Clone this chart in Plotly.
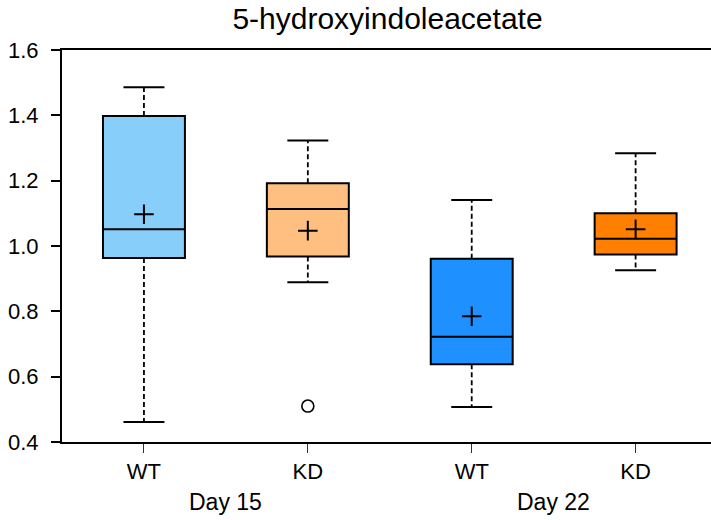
import plotly.graph_objects as go

title = "5-hydroxyindoleacetate"
groups = ["WT", "KD", "WT", "KD"]
days = ["Day 15", "Day 22"]
q1 = [0.963, 0.968, 0.638, 0.974]
median = [1.051, 1.113, 0.722, 1.022]
q3 = [1.398, 1.192, 0.961, 1.100]
lower = [0.461, 0.889, 0.507, 0.926]
upper = [1.486, 1.323, 1.141, 1.284]
means = [1.097, 1.047, 0.785, 1.051]
outlier_group = [1]
outlier_value = [0.510]
colors = ["#87CEFA", "#FFBF80", "#1E90FF", "#FF8000"]

FONT = "Liberation Sans, Arial, sans-serif"
BOX_W = 0.5
CAP_HALF = 0.125

fig = go.Figure()
pos = list(range(len(groups)))

for i in pos:
    fig.add_trace(go.Box(
        x=[i], q1=[q1[i]], median=[median[i]], q3=[q3[i]],
        lowerfence=[q1[i]], upperfence=[q3[i]],
        width=BOX_W, whiskerwidth=0,
        fillcolor=colors[i], line=dict(color="black", width=2),
        boxpoints=False, showlegend=False, hoverinfo="skip",
    ))

# dashed whiskers
wx, wy = [], []
for i in pos:
    wx += [i, i, None, i, i, None]
    wy += [q3[i], upper[i], None, q1[i], lower[i], None]
fig.add_trace(go.Scatter(x=wx, y=wy, mode="lines",
                         line=dict(color="black", width=1.8, dash="5px,3px"),
                         showlegend=False, hoverinfo="skip"))

# caps
cx, cy = [], []
for i in pos:
    for v in (upper[i], lower[i]):
        cx += [i - CAP_HALF, i + CAP_HALF, None]
        cy += [v, v, None]
fig.add_trace(go.Scatter(x=cx, y=cy, mode="lines",
                         line=dict(color="black", width=2),
                         showlegend=False, hoverinfo="skip"))

# means
fig.add_trace(go.Scatter(x=pos, y=means, mode="markers",
                         marker=dict(symbol="cross-thin", size=14,
                                     line=dict(color="black", width=2)),
                         showlegend=False, hoverinfo="skip"))

# outliers
fig.add_trace(go.Scatter(x=outlier_group, y=outlier_value, mode="markers",
                         marker=dict(symbol="circle-open", size=12, color="black",
                                     line=dict(color="black", width=1.6)),
                         showlegend=False, hoverinfo="skip"))

for k, d in enumerate(days):
    fig.add_annotation(x=2 * k + 0.5, y=-0.153, xref="x", yref="paper",
                       yanchor="middle",
                       text=d, showarrow=False,
                       font=dict(family=FONT, size=23, color="black"))

fig.update_layout(
    width=711, height=520,
    margin=dict(l=62, r=0, t=50, b=78),
    paper_bgcolor="white", plot_bgcolor="white",
    font=dict(family=FONT, size=22, color="black"),
    title=dict(text=title, x=0.545, xanchor="center", y=0.965, yanchor="middle",
               font=dict(family=FONT, size=30, color="black")),
)
fig.update_xaxes(range=[-0.5, 3.46], tickvals=pos, ticktext=groups,
                 showgrid=False, zeroline=False, automargin=False,
                 showline=True, linecolor="black", linewidth=2, mirror=True,
                 ticks="outside", ticklen=9, tickwidth=1.2, tickcolor="#333",
                 tickfont=dict(family=FONT, size=22, color="black"))
fig.update_yaxes(range=[0.4, 1.6], tickvals=[0.4, 0.6, 0.8, 1.0, 1.2, 1.4, 1.6],
                 tickformat=".1f", automargin=False, ticklabelstandoff=8,
                 showgrid=False, zeroline=False,
                 showline=True, linecolor="black", linewidth=2,
                 ticks="outside", ticklen=9, tickwidth=1.5, tickcolor="black",
                 tickfont=dict(family=FONT, size=22, color="black"))

fig.write_html("out.html", config={"displayModeBar": False},
               post_script="document.body.style.margin='0';")
